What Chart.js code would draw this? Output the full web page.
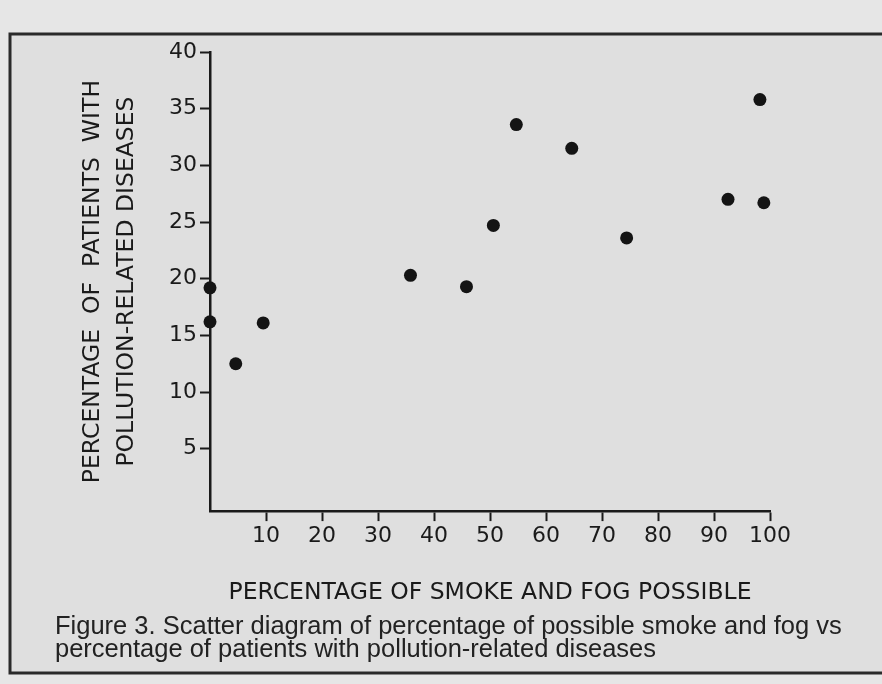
<!DOCTYPE html>
<html>
<head>
<meta charset="utf-8">
<script src="https://cdn.jsdelivr.net/npm/chart.js@4/dist/chart.umd.min.js"></script>
<style>
  html, body { margin: 0; padding: 0; background: #e6e6e6; }
  #wrap { position: relative; width: 882px; height: 684px; }
</style>
</head>
<body>
<div id="wrap"><canvas id="chart" width="882" height="684"></canvas></div>
<script>
// values
const smokeFog = [0, 0, 4.6, 9.5, 35.8, 45.8, 50.6, 54.7, 64.6, 74.4, 92.5, 98.2, 98.9];
const patients = [19.2, 16.2, 12.5, 16.1, 20.3, 19.3, 24.7, 33.6, 31.5, 23.6, 27.0, 35.8, 26.7];

const xTicks = [10, 20, 30, 40, 50, 60, 70, 80, 90, 100];
const yTicks = [5, 10, 15, 20, 25, 30, 35, 40];

const xTitle = 'PERCENTAGE OF SMOKE AND FOG POSSIBLE';
const yTitle = ['PERCENTAGE  OF  PATIENTS  WITH', 'POLLUTION-RELATED DISEASES'];
const caption = [
    'Figure 3. Scatter diagram of percentage of possible smoke and fog vs',
    'percentage of patients with pollution-related diseases'
];

const ink = '#1a1a1a';
const letterFont = 'DejaVu Sans, sans-serif';

// the box drawn round the figure
const framePlugin = {
    id: 'frame',
    beforeDraw(chart) {
        const ctx = chart.ctx;
        ctx.save();
        ctx.fillStyle = '#dfdfdf';
        ctx.fillRect(10, 34, 900, 639);
        ctx.strokeStyle = '#2a2a2a';
        ctx.lineWidth = 3;
        ctx.strokeRect(10, 34, 900, 639);
        ctx.restore();
    }
};

const points = smokeFog.map((x, i) => ({x: x, y: patients[i]}));

const ctx = document.getElementById('chart').getContext('2d');
new Chart(ctx, {
    type: 'scatter',
    data: {
        datasets: [{
            data: points,
            pointRadius: 6.5,
            pointHoverRadius: 6.5,
            backgroundColor: '#141414',
            borderWidth: 0,
            clip: false
        }]
    },
    options: {
        responsive: false,
        animation: false,
        layout: {padding: {left: 55, right: 20, top: 52, bottom: 23}},
        plugins: {
            legend: {display: false},
            tooltip: {enabled: false},
            title: {
                display: true,
                position: 'bottom',
                align: 'start',
                text: caption,
                color: '#222',
                font: {family: 'Liberation Sans, Arial, sans-serif', size: 25.5, weight: 'normal', lineHeight: 0.9},
                padding: {top: 8, bottom: 0}
            }
        },
        scales: {
            x: {
                type: 'linear',
                min: 0,
                max: 100,
                afterBuildTicks: s => { s.ticks = xTicks.map(v => ({value: v})); },
                afterFit: s => { s.height = 96; },
                border: {color: ink, width: 2.5},
                grid: {drawOnChartArea: false, drawTicks: true, tickLength: 10, color: ink, tickWidth: 2},
                ticks: {color: ink, font: {family: letterFont, size: 22}, padding: 2, maxRotation: 0},
                title: {
                    display: true,
                    text: xTitle,
                    color: ink,
                    font: {family: letterFont, size: 23.5},
                    padding: {top: 0, bottom: 0}
                }
            },
            y: {
                type: 'linear',
                min: -0.5,
                max: 40,
                afterBuildTicks: s => { s.ticks = yTicks.map(v => ({value: v})); },
                afterFit: s => { s.width = 155; },
                border: {color: ink, width: 2.5},
                grid: {drawOnChartArea: false, drawTicks: true, tickLength: 10, color: ink, tickWidth: 2},
                ticks: {color: ink, font: {family: letterFont, size: 22}, padding: 3},
                title: {
                    display: true,
                    text: yTitle,
                    color: ink,
                    font: {family: letterFont, size: 23.5, lineHeight: 1.45},
                    padding: {top: 21, bottom: 0}
                }
            },
            // empty right-hand scale that keeps the plot narrower than the caption
            yRight: {
                type: 'linear',
                position: 'right',
                display: true,
                grid: {display: false},
                border: {display: false},
                ticks: {display: false},
                afterFit: s => { s.width = 92; }
            }
        }
    },
    plugins: [framePlugin]
});
</script>
</body>
</html>
